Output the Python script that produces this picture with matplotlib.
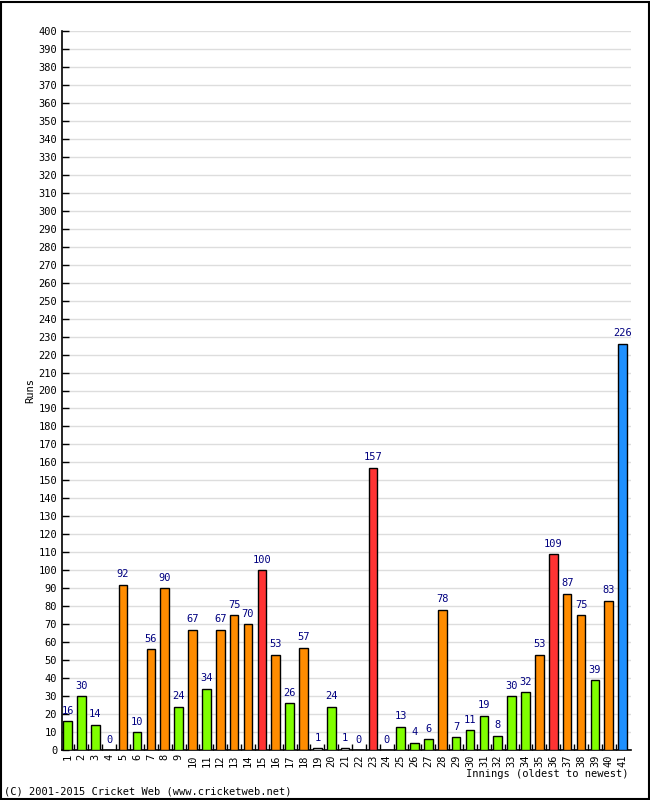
import matplotlib
matplotlib.use('Agg')
import matplotlib.pyplot as plt
from matplotlib.patches import Rectangle

# Innings data
innings = list(range(1, 42))
runs = [16, 30, 14, 0, 92, 10, 56, 90, 24, 67, 34, 67, 75, 70, 100, 53, 26, 57, 1, 24,
        1, 0, 157, 0, 13, 4, 6, 78, 7, 11, 19, 8, 30, 32, 53, 109, 87, 75, 39, 83, 226]
# g = green, o = orange, r = red, b = blue, w = white
kinds = ['g', 'g', 'g', 'w', 'o', 'g', 'o', 'o', 'g', 'o', 'g', 'o', 'o', 'o', 'r', 'o', 'g', 'o', 'w', 'g',
         'w', 'w', 'r', 'w', 'g', 'g', 'g', 'o', 'g', 'g', 'g', 'g', 'g', 'g', 'o', 'r', 'o', 'o', 'g', 'o', 'b']

palette = {'g': '#80FF00', 'o': '#FF8C00', 'r': '#FF3333', 'b': '#1E90FF', 'w': '#FFFFFF'}

plt.rcParams['font.family'] = 'DejaVu Sans Mono'

fig = plt.figure(figsize=(6.5, 8), dpi=100)
ax = fig.add_axes([62 / 650, 50 / 800, 569 / 650, 719 / 800])

ax.bar(innings, runs, width=0.62, color=[palette[k] for k in kinds],
       edgecolor='black', linewidth=1, zorder=3)

for x, y in zip(innings, runs):
    ax.text(x, y + 3, str(y), ha='center', va='bottom', fontsize=7.5, color='#000080')

ax.set_xlim(0.6, 41.6)
ax.set_ylim(0, 400)
ax.set_yticks(range(0, 401, 10))
ax.set_xticks(innings)
ax.set_xticklabels([str(i) for i in innings], rotation=90, fontsize=7.5)
ax.set_xticks([i + 0.5 for i in innings[:-1]], minor=True)
ax.tick_params(axis='y', labelsize=7.5, direction='in', length=5, width=1)
ax.tick_params(axis='x', which='major', length=0, pad=3)
ax.tick_params(axis='x', which='minor', direction='in', length=4, width=1)
ax.yaxis.grid(True, color='#DDDDDD', linewidth=1, zorder=0)
ax.set_axisbelow(True)

for side in ['top', 'right']:
    ax.spines[side].set_visible(False)
ax.spines['left'].set_linewidth(1.2)
ax.spines['bottom'].set_linewidth(1.2)

fig.text(30 / 650, 1 - 390 / 800, 'Runs', rotation=90, ha='center', va='center', fontsize=7.5)
fig.text(628 / 650, 1 - 774 / 800, 'Innings (oldest to newest)', ha='right', va='center', fontsize=7.5)
fig.text(4 / 650, 1 - 792 / 800, '(C) 2001-2015 Cricket Web (www.cricketweb.net)', ha='left', va='center', fontsize=7.5)

fig.patches.append(Rectangle((0.001, 0.001), 0.997, 0.997, transform=fig.transFigure,
                             fill=False, edgecolor='black', linewidth=1.5))

fig.savefig('out.png', dpi=100)
